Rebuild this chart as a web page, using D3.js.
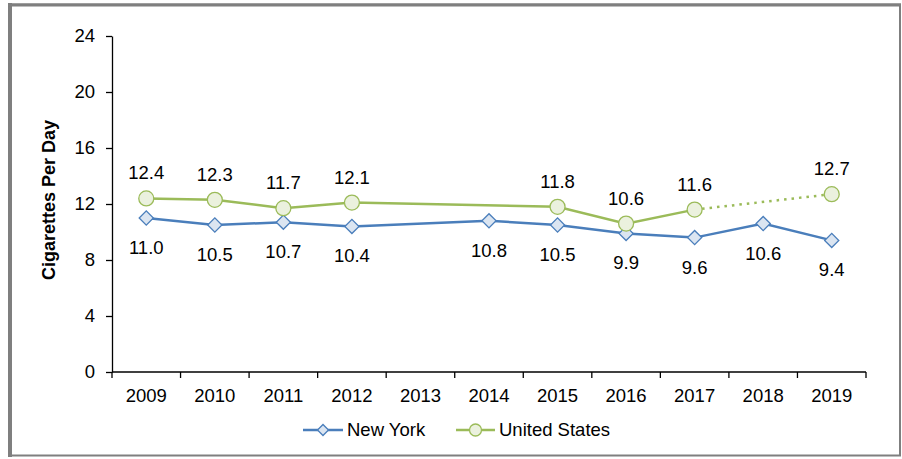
<!DOCTYPE html>
<html>
<head>
<meta charset="utf-8">
<script src="https://cdn.jsdelivr.net/npm/d3@7"></script>
<style>
  body { margin: 0; background: #fff; }
  svg { display: block; font-family: Arial, "Liberation Sans", sans-serif; }
</style>
</head>
<body>
<div class="chartspace"></div>
<script>
var years = ["2009", "2010", "2011", "2012", "2013", "2014", "2015", "2016", "2017", "2018", "2019"];
var newYork = [11.0, 10.5, 10.7, 10.4, null, 10.8, 10.5, 9.9, 9.6, 10.6, 9.4];
var unitedStates = [12.4, 12.3, 11.7, 12.1, null, null, 11.8, 10.6, 11.6, null, 12.7];
var yTicks = [0, 4, 8, 12, 16, 20, 24];

var width = 902, height = 459;
var fontSize = 18.5;

var svg = d3.select(".chartspace").append("svg")
    .attr("width", width)
    .attr("height", height);

// frame
svg.append("rect").attr("x", 10).attr("y", 4.5).attr("width", 890).attr("height", 451)
    .attr("fill", "none").attr("stroke", "#7f7f7f").attr("stroke-width", 2);
svg.append("line").attr("x1", 10).attr("x2", 10).attr("y1", 3).attr("y2", 457)
    .attr("stroke", "#7f7f7f").attr("stroke-width", 4);
svg.append("line").attr("x1", 8).attr("x2", 901).attr("y1", 5).attr("y2", 5)
    .attr("stroke", "#7f7f7f").attr("stroke-width", 3);

var x = d3.scaleBand().domain(years).range([112, 866]);
var y = d3.scaleLinear().domain([0, 24]).range([372, 36]);

function cx(d) { return x(d.year) + x.bandwidth() / 2; }

// y axis
var yAxis = svg.append("g")
    .attr("transform", "translate(112,0)")
    .call(d3.axisLeft(y).tickValues(yTicks).tickSize(6).tickPadding(11).tickSizeOuter(0));
yAxis.selectAll("text").attr("font-size", fontSize).attr("fill", "#000")
    .attr("font-family", "Arial, 'Liberation Sans', sans-serif");
yAxis.select(".domain").attr("stroke-width", 1.3);
yAxis.selectAll(".tick line").attr("stroke-width", 1.3);

// x axis with ticks between categories
var xAxis = svg.append("g").attr("transform", "translate(0,372)");
xAxis.append("line").attr("x1", 112).attr("x2", 866).attr("stroke", "#000").attr("stroke-width", 1.3);
xAxis.selectAll("line.tick").data(years.concat(["end"]))
  .enter().append("line").attr("class", "tick")
    .attr("x1", function (d, i) { return i < years.length ? x(d) : x.range()[1]; })
    .attr("x2", function (d, i) { return i < years.length ? x(d) : x.range()[1]; })
    .attr("y1", 0).attr("y2", 6)
    .attr("stroke", "#000").attr("stroke-width", 1.3);
xAxis.selectAll("text").data(years)
  .enter().append("text")
    .attr("x", function (d) { return x(d) + x.bandwidth() / 2; })
    .attr("y", 30)
    .attr("text-anchor", "middle")
    .attr("font-size", fontSize)
    .text(function (d) { return d; });

svg.append("text")
    .attr("transform", "translate(55,200) rotate(-90)")
    .attr("text-anchor", "middle")
    .attr("font-size", 18)
    .attr("font-weight", "bold")
    .text("Cigarettes Per Day");

var nyColor = "#4a7ebb", nyFill = "#dbe5f1";
var usColor = "#9bbb59", usFill = "#ebf1de";

var nyData = years.map(function (yr, i) { return { year: yr, value: newYork[i] }; })
    .filter(function (d) { return d.value !== null; });
var usData = years.map(function (yr, i) { return { year: yr, value: unitedStates[i] }; })
    .filter(function (d) { return d.value !== null; });

var line = d3.line().x(cx).y(function (d) { return y(d.value); });

// US: solid up to 2017, dotted 2017 -> 2019
var usSolid = usData.filter(function (d) { return +d.year <= 2017; });
var usDotted = usData.filter(function (d) { return +d.year >= 2017; });

svg.append("path").datum(usSolid).attr("d", line)
    .attr("fill", "none").attr("stroke", usColor).attr("stroke-width", 2.5);
svg.append("path").datum(usDotted).attr("d", line)
    .attr("fill", "none").attr("stroke", usColor).attr("stroke-width", 2.5)
    .attr("stroke-dasharray", "2.5,5");

svg.append("path").datum(nyData).attr("d", line)
    .attr("fill", "none").attr("stroke", nyColor).attr("stroke-width", 2.5);

var diamond = d3.symbol().type(d3.symbolSquare).size(100);

svg.selectAll("path.ny").data(nyData)
  .enter().append("path").attr("class", "ny")
    .attr("d", diamond)
    .attr("transform", function (d) { return "translate(" + cx(d) + "," + y(d.value) + ") rotate(45)"; })
    .attr("fill", nyFill).attr("stroke", nyColor).attr("stroke-width", 1.3);

svg.selectAll("circle.us").data(usData)
  .enter().append("circle").attr("class", "us")
    .attr("cx", cx).attr("cy", function (d) { return y(d.value); })
    .attr("r", 7.5)
    .attr("fill", usFill).attr("stroke", usColor).attr("stroke-width", 1.3);

svg.selectAll("text.nyl").data(nyData)
  .enter().append("text").attr("class", "nyl")
    .attr("x", cx).attr("y", function (d) { return y(d.value) + 36; })
    .attr("text-anchor", "middle").attr("font-size", fontSize)
    .text(function (d) { return d.value.toFixed(1); });

svg.selectAll("text.usl").data(usData)
  .enter().append("text").attr("class", "usl")
    .attr("x", cx).attr("y", function (d) { return y(d.value) - 19; })
    .attr("text-anchor", "middle").attr("font-size", fontSize)
    .text(function (d) { return d.value.toFixed(1); });

// legend
var legend = svg.append("g");
legend.append("line").attr("x1", 303).attr("x2", 343).attr("y1", 430).attr("y2", 430)
    .attr("stroke", nyColor).attr("stroke-width", 2.5);
legend.append("path").attr("d", d3.symbol().type(d3.symbolSquare).size(60))
    .attr("transform", "translate(323,430) rotate(45)")
    .attr("fill", nyFill).attr("stroke", nyColor).attr("stroke-width", 1.3);
legend.append("text").attr("x", 347).attr("y", 436).attr("font-size", fontSize).text("New York");

legend.append("line").attr("x1", 456).attr("x2", 495).attr("y1", 430).attr("y2", 430)
    .attr("stroke", usColor).attr("stroke-width", 2.5);
legend.append("circle").attr("cx", 475.5).attr("cy", 430).attr("r", 6)
    .attr("fill", usFill).attr("stroke", usColor).attr("stroke-width", 1.3);
legend.append("text").attr("x", 499).attr("y", 436).attr("font-size", fontSize).text("United States");
</script>
</body>
</html>
